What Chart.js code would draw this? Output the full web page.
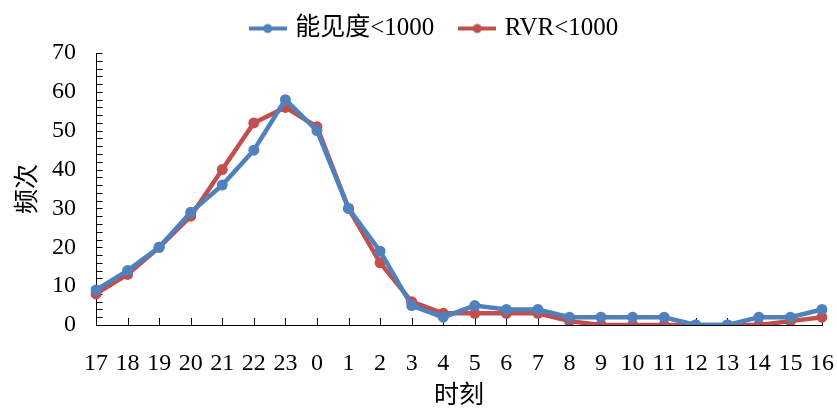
<!DOCTYPE html>
<html>
<head>
<meta charset="utf-8">
<script src="https://cdn.jsdelivr.net/npm/chart.js@4"></script>
<style>
html,body{margin:0;padding:0;background:#fff;}
#wrap{width:837px;height:408px;position:relative;}
</style>
</head>
<body>
<div id="wrap"><canvas id="c" width="837" height="408"></canvas></div>
<script>
const categories = ['17','18','19','20','21','22','23','0','1','2','3','4','5','6','7','8','9','10','11','12','13','14','15','16'];
const visibility = [9,14,20,29,36,45,58,50,30,19,5,2,5,4,4,2,2,2,2,0,0,2,2,4];
const rvr = [8,13,20,28,40,52,56,51,30,16,6,3,3,3,3,1,0,0,0,0,0,0,1,2];
const seriesNames = ['能见度<1000','RVR<1000'];
const yTicks = {min:0, max:70, step:10, minorStep:2};

const BLUE = '#4F81BD', RED = '#C0504D';
const SERIF = '"Liberation Serif","Times New Roman","Noto Sans CJK SC",serif';
const CJK = '"Noto Sans CJK SC","Liberation Serif",sans-serif';

function legendIcon(color){
  const cv = document.createElement('canvas');
  cv.width = 38; cv.height = 12;
  const g = cv.getContext('2d');
  g.strokeStyle = color; g.lineWidth = 4;
  g.beginPath(); g.moveTo(0,6); g.lineTo(38,6); g.stroke();
  g.fillStyle = color;
  g.beginPath(); g.arc(19,6,4.5,0,Math.PI*2); g.fill();
  return cv;
}

const tickPlugin = {
  id:'innerTicks',
  afterInit(chart){
    const lg = chart.legend;
    if (lg){
      const orig = lg.fit;
      lg.fit = function(){ orig.call(this); this.height = 53; };
      const od = lg.draw;
      lg.draw = function(){
        const c = this.ctx;
        c.save(); c.translate(17,-12); od.call(this); c.restore();
      };
    }
  },
  beforeDatasetsDraw(chart){
    const {ctx, scales:{x,y}} = chart;
    ctx.save();
    ctx.strokeStyle = '#000'; ctx.lineWidth = 1;
    const x0 = Math.round(x.left)+0.5;
    for (let v=yTicks.min; v<=yTicks.max; v+=yTicks.minorStep){
      const py = Math.round(y.getPixelForValue(v))+0.5;
      ctx.beginPath(); ctx.moveTo(x0,py); ctx.lineTo(x0+6,py); ctx.stroke();
    }
    const yb = Math.round(y.bottom);
    for (let i=0;i<categories.length;i++){
      const px = Math.round(x.getPixelForValue(i))+0.5;
      ctx.beginPath(); ctx.moveTo(px,yb); ctx.lineTo(px,yb-7); ctx.stroke();
    }
    ctx.restore();
  }
};

new Chart(document.getElementById('c'), {
  type:'line',
  data:{
    labels:categories,
    datasets:[
      {label:seriesNames[0], data:visibility, borderColor:BLUE, backgroundColor:BLUE,
       borderWidth:4.5, pointRadius:5.5, pointHoverRadius:5.5, pointBackgroundColor:BLUE, pointBorderWidth:0,
       tension:0, pointStyle:'circle'},
      {label:seriesNames[1], data:rvr, borderColor:RED, backgroundColor:RED,
       borderWidth:4.5, pointRadius:5.5, pointHoverRadius:5.5, pointBackgroundColor:RED, pointBorderWidth:0,
       tension:0, pointStyle:'circle'}
    ]
  },
  options:{
    responsive:false, animation:false,
    layout:{padding:{left:0,right:0,top:0,bottom:0}},
    plugins:{
      tooltip:{enabled:false},
      legend:{
        position:'top', align:'center',
        labels:{
          usePointStyle:true, pointStyleWidth:30, boxHeight:12,
          color:'#000', font:{family:SERIF, size:25}, padding:28,
          generateLabels(chart){
            return chart.data.datasets.map((d,i)=>({
              text:d.label, fillStyle:d.borderColor, strokeStyle:d.borderColor,
              lineWidth:0, pointStyle:legendIcon(d.borderColor), datasetIndex:i, hidden:false,
              fontColor:'#000'
            }));
          }
        }
      }
    },
    scales:{
      x:{
        type:'category', offset:false,
        grid:{display:false, drawTicks:false},
        border:{display:true, color:'#000', width:1},
        ticks:{color:'#000', font:{family:SERIF, size:24}, autoSkip:false, maxRotation:0, padding:24},
        title:{display:true, text:'时刻', color:'#000', font:{family:CJK, size:25}, padding:{top:0,bottom:0}},
        afterFit(s){ s.height = 83; s.paddingRight = 15; s.paddingLeft = 0; }
      },
      y:{
        min:yTicks.min, max:yTicks.max,
        grid:{display:false, drawTicks:false},
        border:{display:true, color:'#000', width:1},
        ticks:{stepSize:yTicks.step, color:'#000', font:{family:SERIF, size:24}, padding:20},
        title:{display:true, text:'频次', color:'#000', font:{family:CJK, size:25}, padding:{top:10,bottom:0}},
        afterFit(s){ s.width = 96; }
      }
    }
  },
  plugins:[tickPlugin]
});
</script>
</body>
</html>
